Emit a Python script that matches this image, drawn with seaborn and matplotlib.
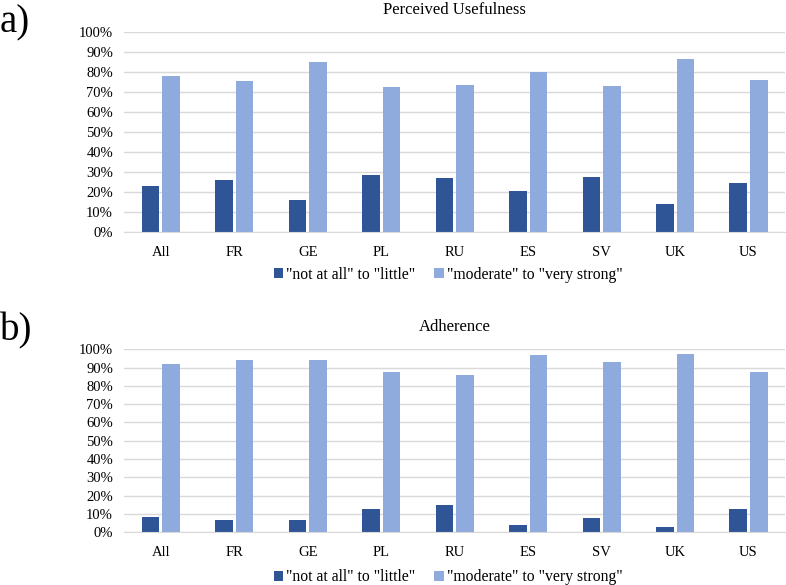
import pandas as pd
import matplotlib.pyplot as plt
import seaborn as sns
from matplotlib.ticker import PercentFormatter

sns.set_style("white")
plt.rcParams.update({
    'font.family': ['Liberation Serif', 'DejaVu Serif'],
    'font.size': 10,
    'text.color': 'black',
    'xtick.labelcolor': 'black',
    'ytick.labelcolor': 'black',
})

DARK = "#2F5597"
LIGHT = "#8FAADC"
GRID = "#D9D9D9"

countries = ["All", "FR", "GE", "PL", "RU", "ES", "SV", "UK", "US"]
series_names = ['"not at all" to "little"', '"moderate" to "very strong"']

# Perceived usefulness (%)
useful_low = [22.8, 25.7, 15.7, 28.2, 26.7, 20.3, 27.5, 13.8, 24.5]
useful_high = [77.7, 75.3, 84.8, 72.3, 73.5, 80.0, 72.8, 86.5, 75.8]

# Adherence (%)
adher_low = [8.4, 6.5, 6.5, 12.9, 14.7, 3.8, 7.6, 3.1, 12.9]
adher_high = [92.1, 94.2, 94.2, 87.8, 85.8, 96.7, 92.9, 97.4, 87.8]


def to_long(low, high):
    return pd.DataFrame({
        'Country': countries * 2,
        'Value': low + high,
        'Level': [series_names[0]] * len(countries) + [series_names[1]] * len(countries),
    })


fig = plt.figure(figsize=(7.86, 5.85), dpi=100)
ax_a = fig.add_axes([0.158, 0.604, 0.841, 0.342])
ax_b = fig.add_axes([0.158, 0.090, 0.841, 0.313])

panels = [
    (ax_a, to_long(useful_low, useful_high), "Perceived Usefulness", "a)", 0.993, -0.105),
    (ax_b, to_long(adher_low, adher_high), "Adherence", "b)", 0.466, -0.125),
]

for ax, df, title, tag, tag_y, leg_y in panels:
    sns.barplot(data=df, x='Country', y='Value', hue='Level',
                palette=[DARK, LIGHT], width=0.56, gap=0.15,
                saturation=1, ax=ax, linewidth=0)
    ax.set_ylim(0, 100)
    ax.set_xlim(-0.5, len(countries) - 0.5)
    ax.set_yticks(range(0, 101, 10))
    ax.yaxis.set_major_formatter(PercentFormatter(decimals=0))
    ax.grid(axis='y', color=GRID, linewidth=1)
    ax.set_axisbelow(True)
    for side in ['top', 'right', 'left']:
        ax.spines[side].set_visible(False)
    ax.spines['bottom'].set_color(GRID)
    ax.tick_params(axis='both', length=0, labelsize=10.5)
    ax.tick_params(axis='y', pad=8)
    ax.tick_params(axis='x', pad=10)
    ax.set_xlabel("")
    ax.set_ylabel("")
    ax.set_title(title, fontsize=12, pad=13)
    ax.legend(loc='upper center', bbox_to_anchor=(0.49, leg_y), ncol=2,
              frameon=False, fontsize=11.3, handlelength=0.6,
              handleheight=0.6, handletextpad=0.2, columnspacing=1.2)
    fig.text(0.0, tag_y, tag, fontsize=28, ha='left', va='top')

fig.savefig("out.png", dpi=100)
